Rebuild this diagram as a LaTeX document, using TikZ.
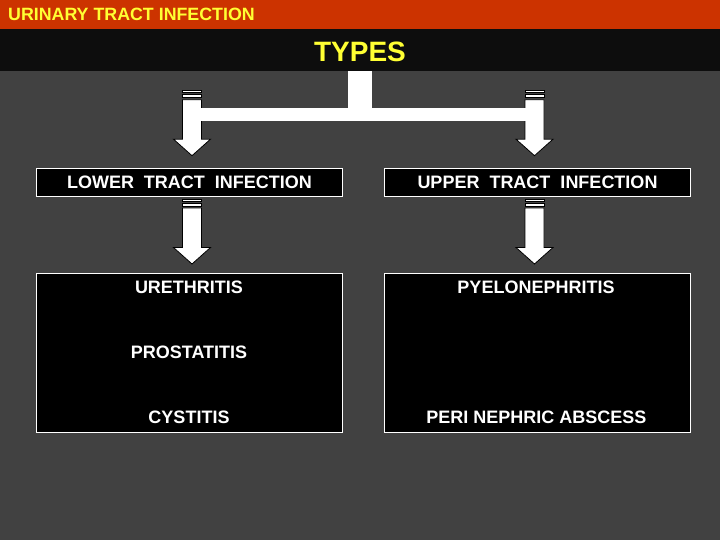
\documentclass[tikz,border=0pt]{standalone}
\usepackage{fontspec}
\setmainfont{Liberation Sans}
\definecolor{bggray}{HTML}{414141}
\definecolor{hdred}{HTML}{CC3300}
\definecolor{hdblack}{HTML}{0D0D0D}
\definecolor{hdyellow}{HTML}{FFFF33}
\newcommand\stripearrow[2]{%
  \fill[white,draw=black,line width=0.8pt] (#1-9.5,#2) rectangle (#1+9.5,#2+2);
  \fill[white,draw=black,line width=0.8pt] (#1-9.5,#2+4) rectangle (#1+9.5,#2+7);
  \fill[white,draw=black,line width=0.8pt] (#1-9.5,#2+9) -- (#1+9.5,#2+9) -- (#1+9.5,#2+48.5) -- (#1+18.5,#2+48.5) -- (#1,#2+65) -- (#1-18.5,#2+48.5) -- (#1-9.5,#2+48.5) -- cycle;
}
\begin{document}
\begin{tikzpicture}[x=1pt,y=-1pt,
  box/.style={draw=white,line width=1pt,fill=black},
  itemtxt/.style={text=white,font=\bfseries\fontsize{18}{20}\selectfont,anchor=base,inner sep=0pt}]
\useasboundingbox (0,0) rectangle (720,540);
\fill[bggray] (0,0) rectangle (720,540);
\fill[hdred] (0,0) rectangle (720,29);
\fill[hdblack] (0,29) rectangle (720,71);
\node[anchor=base west,inner sep=0pt,text=hdyellow,font=\bfseries\fontsize{17.8}{20}\selectfont] (title) at (8,20.7) {URINARY TRACT INFECTION};
\node[anchor=base,inner sep=0pt,text=hdyellow,font=\bfseries\fontsize{28}{30}\selectfont] (types) at (360,61.7) {TYPES};
% boxes
\draw[box] (36,168.5) rectangle (342.5,197);
\draw[box] (384.5,168.5) rectangle (690.5,197);
\draw[box] (36,273.5) rectangle (342.5,432);
\draw[box] (384.5,273.5) rectangle (690.5,432);
% arrows
\stripearrow{192}{90.7}
\stripearrow{534.5}{90.7}
\stripearrow{192}{199}
\stripearrow{534.5}{199}
\fill[white] (192,107.7) rectangle (534.5,120.7);
\fill[white] (347.7,71) rectangle (371.7,108);
% texts
\node[itemtxt] (lower) at (189.5,189) {LOWER~~TRACT~~INFECTION};
\node[itemtxt] (upper) at (537.5,189) {UPPER~~TRACT~~INFECTION};
\node[itemtxt] (ureth) at (189,293.5) {URETHRITIS};
\node[itemtxt] (prost) at (189,358.5) {PROSTATITIS};
\node[itemtxt] (cyst) at (189,423.5) {CYSTITIS};
\node[itemtxt] (pyelo) at (536,293.5) {PYELONEPHRITIS};
\node[itemtxt] (peri) at (536.5,423.5) {PERI NEPHRIC ABSCESS};
\end{tikzpicture}
\end{document}
